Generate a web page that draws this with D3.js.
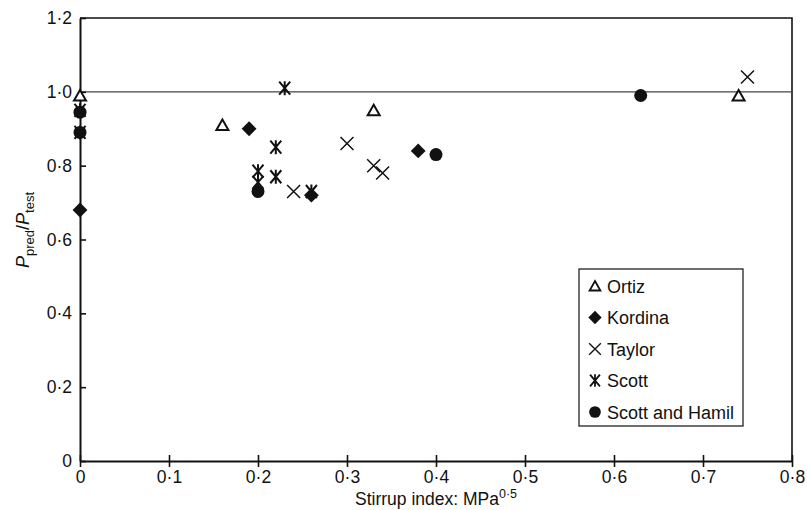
<!DOCTYPE html>
<html>
<head>
<meta charset="utf-8">
<script src="https://cdn.jsdelivr.net/npm/d3@7"></script>
<style>
  body { margin: 0; background: #fff; }
  svg { font-family: "Liberation Sans", Arial, sans-serif; }
</style>
</head>
<body>
<div id="chart"></div>
<script>
// data: [stirrup index, Ppred/Ptest]
const ortiz = [[0, 0.99], [0.16, 0.91], [0.33, 0.95], [0.74, 0.99]];
const kordina = [[0, 0.68], [0.19, 0.90], [0.26, 0.72], [0.38, 0.84]];
const taylor = [[0.24, 0.73], [0.30, 0.86], [0.33, 0.80], [0.34, 0.78], [0.75, 1.04]];
const scott = [[0, 0.95], [0, 0.89], [0.20, 0.785], [0.20, 0.755], [0.22, 0.85], [0.22, 0.77], [0.23, 1.01], [0.26, 0.73]];
const scottHamil = [[0, 0.945], [0, 0.89], [0.20, 0.73], [0.40, 0.83], [0.63, 0.99]];

const xTicks = [0, 0.1, 0.2, 0.3, 0.4, 0.5, 0.6, 0.7, 0.8];
const yTicks = [0, 0.2, 0.4, 0.6, 0.8, 1.0, 1.2];
const seriesNames = ["Ortiz", "Kordina", "Taylor", "Scott", "Scott and Hamil"];

const fmt = v => v === 0 ? "0" : d3.format(".1f")(v).replace(".", "\u00b7");

const dimensions = {
  width: 807,
  height: 510,
  margin: { top: 18, right: 15, bottom: 49, left: 80 },
};
dimensions.boundedWidth = dimensions.width - dimensions.margin.left - dimensions.margin.right;
dimensions.boundedHeight = dimensions.height - dimensions.margin.top - dimensions.margin.bottom;

const wrapper = d3.select("#chart")
  .append("svg")
    .attr("width", dimensions.width)
    .attr("height", dimensions.height);

const bounds = wrapper.append("g")
  .attr("transform", `translate(${dimensions.margin.left}, ${dimensions.margin.top})`);

const xScale = d3.scaleLinear().domain([0, 0.8]).range([0, dimensions.boundedWidth]);
const yScale = d3.scaleLinear().domain([0, 1.2]).range([dimensions.boundedHeight, 0]);

// frame (top + right)
bounds.append("path")
  .attr("d", `M0,0H${dimensions.boundedWidth}V${dimensions.boundedHeight}`)
  .attr("fill", "none")
  .attr("stroke", "#111")
  .attr("stroke-width", 1.6);

// reference line at 1.0
bounds.append("line")
  .attr("x1", 0).attr("x2", dimensions.boundedWidth)
  .attr("y1", yScale(1)).attr("y2", yScale(1))
  .attr("stroke", "#444")
  .attr("stroke-width", 1.2);

// axes
const xAxis = bounds.append("g")
  .attr("transform", `translate(0, ${dimensions.boundedHeight})`)
  .call(d3.axisBottom(xScale).tickValues(xTicks).tickFormat(fmt).tickSize(6).tickSizeOuter(0))
  .call(g => g.select(".domain").attr("stroke", "#111").attr("stroke-width", 2))
  .call(g => g.selectAll(".tick line").attr("y1", -6).attr("stroke", "#111").attr("stroke-width", 1.6))
  .call(g => g.selectAll(".tick text").attr("y", 10).attr("font-size", 17.5).attr("fill", "#111")
    .attr("font-family", "Liberation Sans, Arial, sans-serif"));

const yAxis = bounds.append("g")
  .call(d3.axisLeft(yScale).tickValues(yTicks).tickFormat(fmt).tickSize(4).tickSizeOuter(0))
  .call(g => g.select(".domain").attr("stroke", "#111").attr("stroke-width", 2))
  .call(g => g.selectAll(".tick line").attr("x2", 6).attr("stroke", "#111").attr("stroke-width", 1.6))
  .call(g => g.selectAll(".tick text").attr("x", -8).attr("font-size", 17.5).attr("fill", "#111")
    .attr("font-family", "Liberation Sans, Arial, sans-serif"));

// axis titles
const xTitle = wrapper.append("text")
  .attr("x", 436)
  .attr("y", 505)
  .attr("text-anchor", "middle")
  .attr("font-size", 17.5)
  .attr("fill", "#111");
xTitle.append("tspan").text("Stirrup index: MPa");
xTitle.append("tspan").attr("dy", -7).attr("font-size", 12.5).text("0\u00b75");

const yTitle = wrapper.append("text")
  .attr("transform", "translate(29, 230) rotate(-90)")
  .attr("text-anchor", "middle")
  .attr("font-size", 18)
  .attr("fill", "#111");
yTitle.append("tspan").attr("font-style", "italic").text("P");
yTitle.append("tspan").attr("dy", 5).attr("font-size", 13).text("pred");
yTitle.append("tspan").attr("dy", -5).text("/");
yTitle.append("tspan").attr("font-style", "italic").text("P");
yTitle.append("tspan").attr("dy", 5).attr("font-size", 13).text("test");

// marker drawers
const markers = {
  "Ortiz": g => g.append("path")
    .attr("d", "M0,-5.5L6,5L-6,5Z")
    .attr("fill", "#fff").attr("stroke", "#111").attr("stroke-width", 2),
  "Kordina": g => g.append("path")
    .attr("d", d3.symbol(d3.symbolDiamond2, 140)())
    .attr("fill", "#111"),
  "Taylor": g => g.append("path")
    .attr("d", "M-6.5,-6.5L6.5,6.5M-6.5,6.5L6.5,-6.5")
    .attr("stroke", "#111").attr("stroke-width", 1.5),
  "Scott": g => g.append("path")
    .attr("d", "M-5.5,-6.5L5.5,6.5M-5.5,6.5L5.5,-6.5M0,-7V7")
    .attr("stroke", "#111").attr("stroke-width", 2),
  "Scott and Hamil": g => g.append("circle")
    .attr("r", 6.5)
    .attr("fill", "#111"),
};

const seriesData = [ortiz, kordina, taylor, scott, scottHamil];

const plots = bounds.append("g");
seriesNames.forEach((name, i) => {
  plots.append("g")
    .selectAll("g")
    .data(seriesData[i])
    .join("g")
      .attr("transform", d => `translate(${xScale(d[0])}, ${yScale(d[1])})`)
      .each(function() { markers[name](d3.select(this)); });
});

// legend
const legend = wrapper.append("g").attr("transform", "translate(579, 269)");
legend.append("rect")
  .attr("width", 164).attr("height", 157)
  .attr("fill", "#fff").attr("stroke", "#222").attr("stroke-width", 1.3);

const legendItems = legend.selectAll(".item")
  .data(seriesNames)
  .join("g")
    .attr("class", "item")
    .attr("transform", (d, i) => `translate(16, ${17 + i * 31.5})`);

legendItems.each(function(name) {
  const g = d3.select(this).append("g").attr("transform", "scale(0.9)");
  markers[name](g);
});

legendItems.append("text")
  .attr("x", 12)
  .attr("y", 6.5)
  .attr("font-size", 18)
  .attr("fill", "#111")
  .text(d => d);
</script>
</body>
</html>
